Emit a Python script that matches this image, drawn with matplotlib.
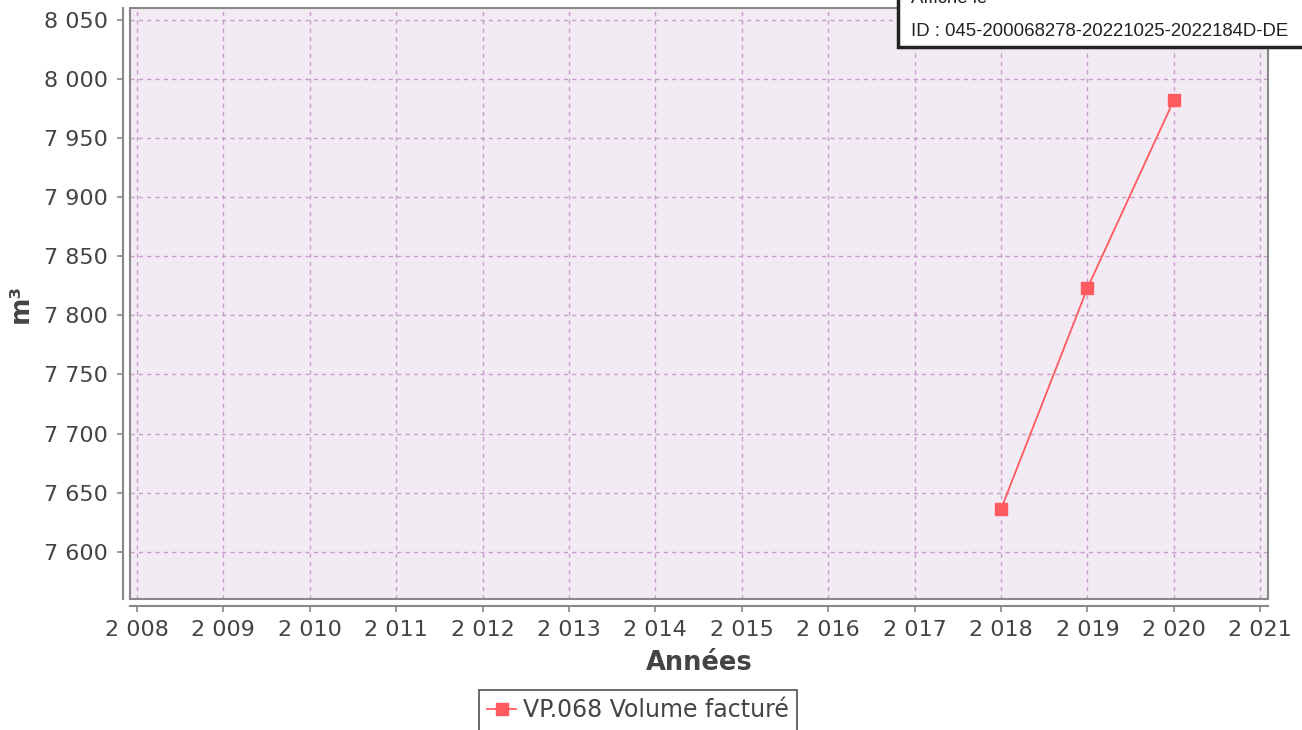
import matplotlib
matplotlib.use("Agg")
import matplotlib.pyplot as plt
from matplotlib.patches import Rectangle
from matplotlib.ticker import FuncFormatter, MultipleLocator

# data
years = [2018, 2019, 2020]
volumes = [7636, 7823, 7982]
series_label = "VP.068 Volume facturé"
x_label = "Années"
y_label = "m³"
stamp_top = "Affiché le"
stamp_id = "ID : 045-200068278-20221025-2022184D-DE"

plt.rcParams['font.family'] = ['DejaVu Sans']

fig = plt.figure(figsize=(13.02, 7.30), dpi=100)
ax = fig.add_axes([130 / 1302, 1 - 599 / 730, 1138 / 1302, 591 / 730])
ax.set_facecolor('#f3ebf3')

ax.plot(years, volumes, color='#ff5a5f', lw=1.3, marker='s', markersize=9,
        markeredgecolor='#ff5a5f', label=series_label, zorder=3)

ax.set_xlim(2007.92, 2021.09)
ax.set_ylim(7560, 8060)
ax.xaxis.set_major_locator(MultipleLocator(1))
ax.yaxis.set_major_locator(MultipleLocator(50))

def spaced(v, pos):
    return f"{int(round(v)):,}".replace(",", " ")

ax.xaxis.set_major_formatter(FuncFormatter(spaced))
ax.yaxis.set_major_formatter(FuncFormatter(spaced))

ax.grid(True, color='#c99ccf', linestyle=(0, (3, 3)), linewidth=1)
ax.set_axisbelow(True)

# axis lines offset from the plot box
for s in ['top', 'right']:
    ax.spines[s].set_visible(False)
for s in ['left', 'bottom']:
    ax.spines[s].set_position(('outward', 5))
    ax.spines[s].set_color('#888888')
    ax.spines[s].set_linewidth(1.5)
ax.add_patch(Rectangle((0, 0), 1, 1, transform=ax.transAxes, fill=False,
                       edgecolor='#888888', lw=1.5, clip_on=False, zorder=4))

ax.tick_params(axis='both', colors='#888888', labelcolor='#444444',
               labelsize=16, length=4, width=1.2, direction='out')
ax.tick_params(axis='x', pad=6)
ax.tick_params(axis='y', pad=7)

ax.set_xlabel(x_label, fontsize=18.5, fontweight='bold', color='#444444', labelpad=7)
ax.set_ylabel(y_label, fontsize=19, fontweight='bold', color='#444444', labelpad=7)

leg = fig.legend(loc='upper center', bbox_to_anchor=(638 / 1302, 1 - 690 / 730),
                 frameon=True, fancybox=False, fontsize=17, handlelength=1.2,
                 handletextpad=0.3, borderpad=0.35, borderaxespad=0)
leg.get_frame().set_edgecolor('#222222')
leg.get_frame().set_linewidth(1.2)
for t in leg.get_texts():
    t.set_color('#444444')

# stamp box in the top right corner
fig.patches.append(Rectangle((898 / 1302, 1 - 47 / 730), 420 / 1302, 60 / 730,
                             transform=fig.transFigure, facecolor='white',
                             edgecolor='#222222', lw=2.5, zorder=10))
fig.text(911 / 1302, 1 - 3 / 730, stamp_top, fontsize=13.4, family='Liberation Sans',
         color='#222222', va='baseline', zorder=11)
fig.text(911 / 1302, 1 - 32 / 730, stamp_id, fontsize=13.4, family='Liberation Sans',
         color='#222222', va='center', zorder=11)

fig.savefig('out.png', dpi=100)
